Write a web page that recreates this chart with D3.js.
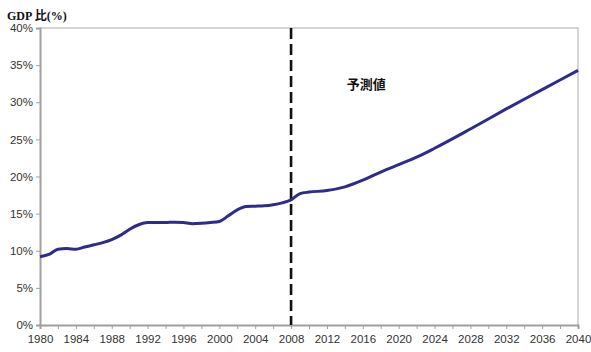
<!DOCTYPE html>
<html>
<head>
<meta charset="utf-8">
<script src="https://cdn.jsdelivr.net/npm/d3@7"></script>
<style>
  body { margin: 0; background: #fff; }
  svg text { font-family: "Liberation Sans", Arial, sans-serif; }
</style>
</head>
<body>
<svg id="chart" width="591" height="352"></svg>
<script>
// GDP ratio (%) by year, history to 2008 then projection
var years = [1980, 1981, 1982, 1983, 1984, 1985, 1986, 1987, 1988, 1989,
             1990, 1991, 1992, 1993, 1994, 1995, 1996, 1997, 1998, 1999,
             2000, 2001, 2002, 2003, 2004, 2005, 2006, 2007, 2008, 2009,
             2010, 2012, 2014, 2016, 2018, 2020, 2022, 2024, 2028, 2032,
             2036, 2040];
var values = [9.2, 9.5, 10.2, 10.3, 10.2, 10.5, 10.8, 11.1, 11.5, 12.1,
              12.9, 13.5, 13.8, 13.8, 13.8, 13.85, 13.8, 13.65, 13.7, 13.8,
              13.95, 14.7, 15.5, 15.95, 16.0, 16.05, 16.2, 16.45, 16.85, 17.7,
              17.9, 18.1, 18.6, 19.5, 20.6, 21.6, 22.6, 23.8, 26.4, 29.1,
              31.7, 34.3];
var yTicks = [0, 5, 10, 15, 20, 25, 30, 35, 40];
var xMinor = d3.range(1980, 2041, 2);
var forecastStart = 2008;

var margin = { top: 28, right: 13, bottom: 27, left: 40 };
var width = 591 - margin.left - margin.right;
var height = 352 - margin.top - margin.bottom;

var x = d3.scaleLinear().domain([1980, 2040]).range([0, width]);
var y = d3.scaleLinear().domain([0, 40]).range([height, 0]);

var svg = d3.select("#chart");
var chart = svg.append("g")
    .attr("transform", "translate(" + margin.left + "," + margin.top + ")");

// plot frame (top + right light gray)
chart.append("path")
    .attr("d", "M0,0H" + width + "V" + height)
    .attr("fill", "none")
    .attr("stroke", "#c8c8c8")
    .attr("stroke-width", 1.5);

// y axis
var yAxis = d3.axisLeft(y)
    .tickValues(yTicks)
    .tickSize(4)
    .tickPadding(3)
    .tickFormat(function (d) { return d + "%"; });
var gy = chart.append("g").call(yAxis);
gy.select(".domain").attr("stroke", "#a0a0a0").attr("stroke-width", 2);
gy.selectAll(".tick line").attr("stroke", "#a0a0a0");
gy.selectAll("text").attr("font-size", 11.5).attr("fill", "#333");

// x axis: minor ticks every 2 years, labels every 4
var xAxis = d3.axisBottom(x)
    .tickValues(xMinor)
    .tickSize(4)
    .tickPadding(6)
    .tickFormat(function (d) { return d % 4 === 0 ? d : ""; });
var gx = chart.append("g")
    .attr("transform", "translate(0," + height + ")")
    .call(xAxis);
gx.select(".domain").attr("stroke", "#a0a0a0").attr("stroke-width", 2);
gx.selectAll(".tick line").attr("stroke", "#a0a0a0");
gx.selectAll("text").attr("font-size", 11.5).attr("fill", "#333");

// forecast divider
chart.append("line")
    .attr("x1", x(forecastStart)).attr("x2", x(forecastStart))
    .attr("y1", 0).attr("y2", height)
    .attr("stroke", "#111")
    .attr("stroke-width", 2.6)
    .attr("stroke-dasharray", "11,5");

// series line
var data = years.map(function (yr, i) { return { year: yr, v: values[i] }; });
var line = d3.line()
    .x(function (d) { return x(d.year); })
    .y(function (d) { return y(d.v); })
    .curve(d3.curveMonotoneX);
chart.append("path")
    .datum(data)
    .attr("fill", "none")
    .attr("stroke", "#2e2a8e")
    .attr("stroke-width", 3)
    .attr("stroke-linejoin", "round")
    .attr("d", line);

// annotations
chart.append("text")
    .attr("x", x(2014.2))
    .attr("y", y(31.8))
    .style("font-family", "'Noto Sans CJK JP', sans-serif")
    .attr("font-weight", "bold")
    .attr("font-size", 13)
    .attr("fill", "#111")
    .text("予測値");

svg.append("text")
    .attr("x", 7)
    .attr("y", 20)
    .style("font-family", "'Liberation Serif', 'Noto Sans CJK JP', serif")
    .attr("font-weight", "bold")
    .attr("font-size", 12)
    .attr("fill", "#111")
    .text("GDP 比(%)");
</script>
</body>
</html>
